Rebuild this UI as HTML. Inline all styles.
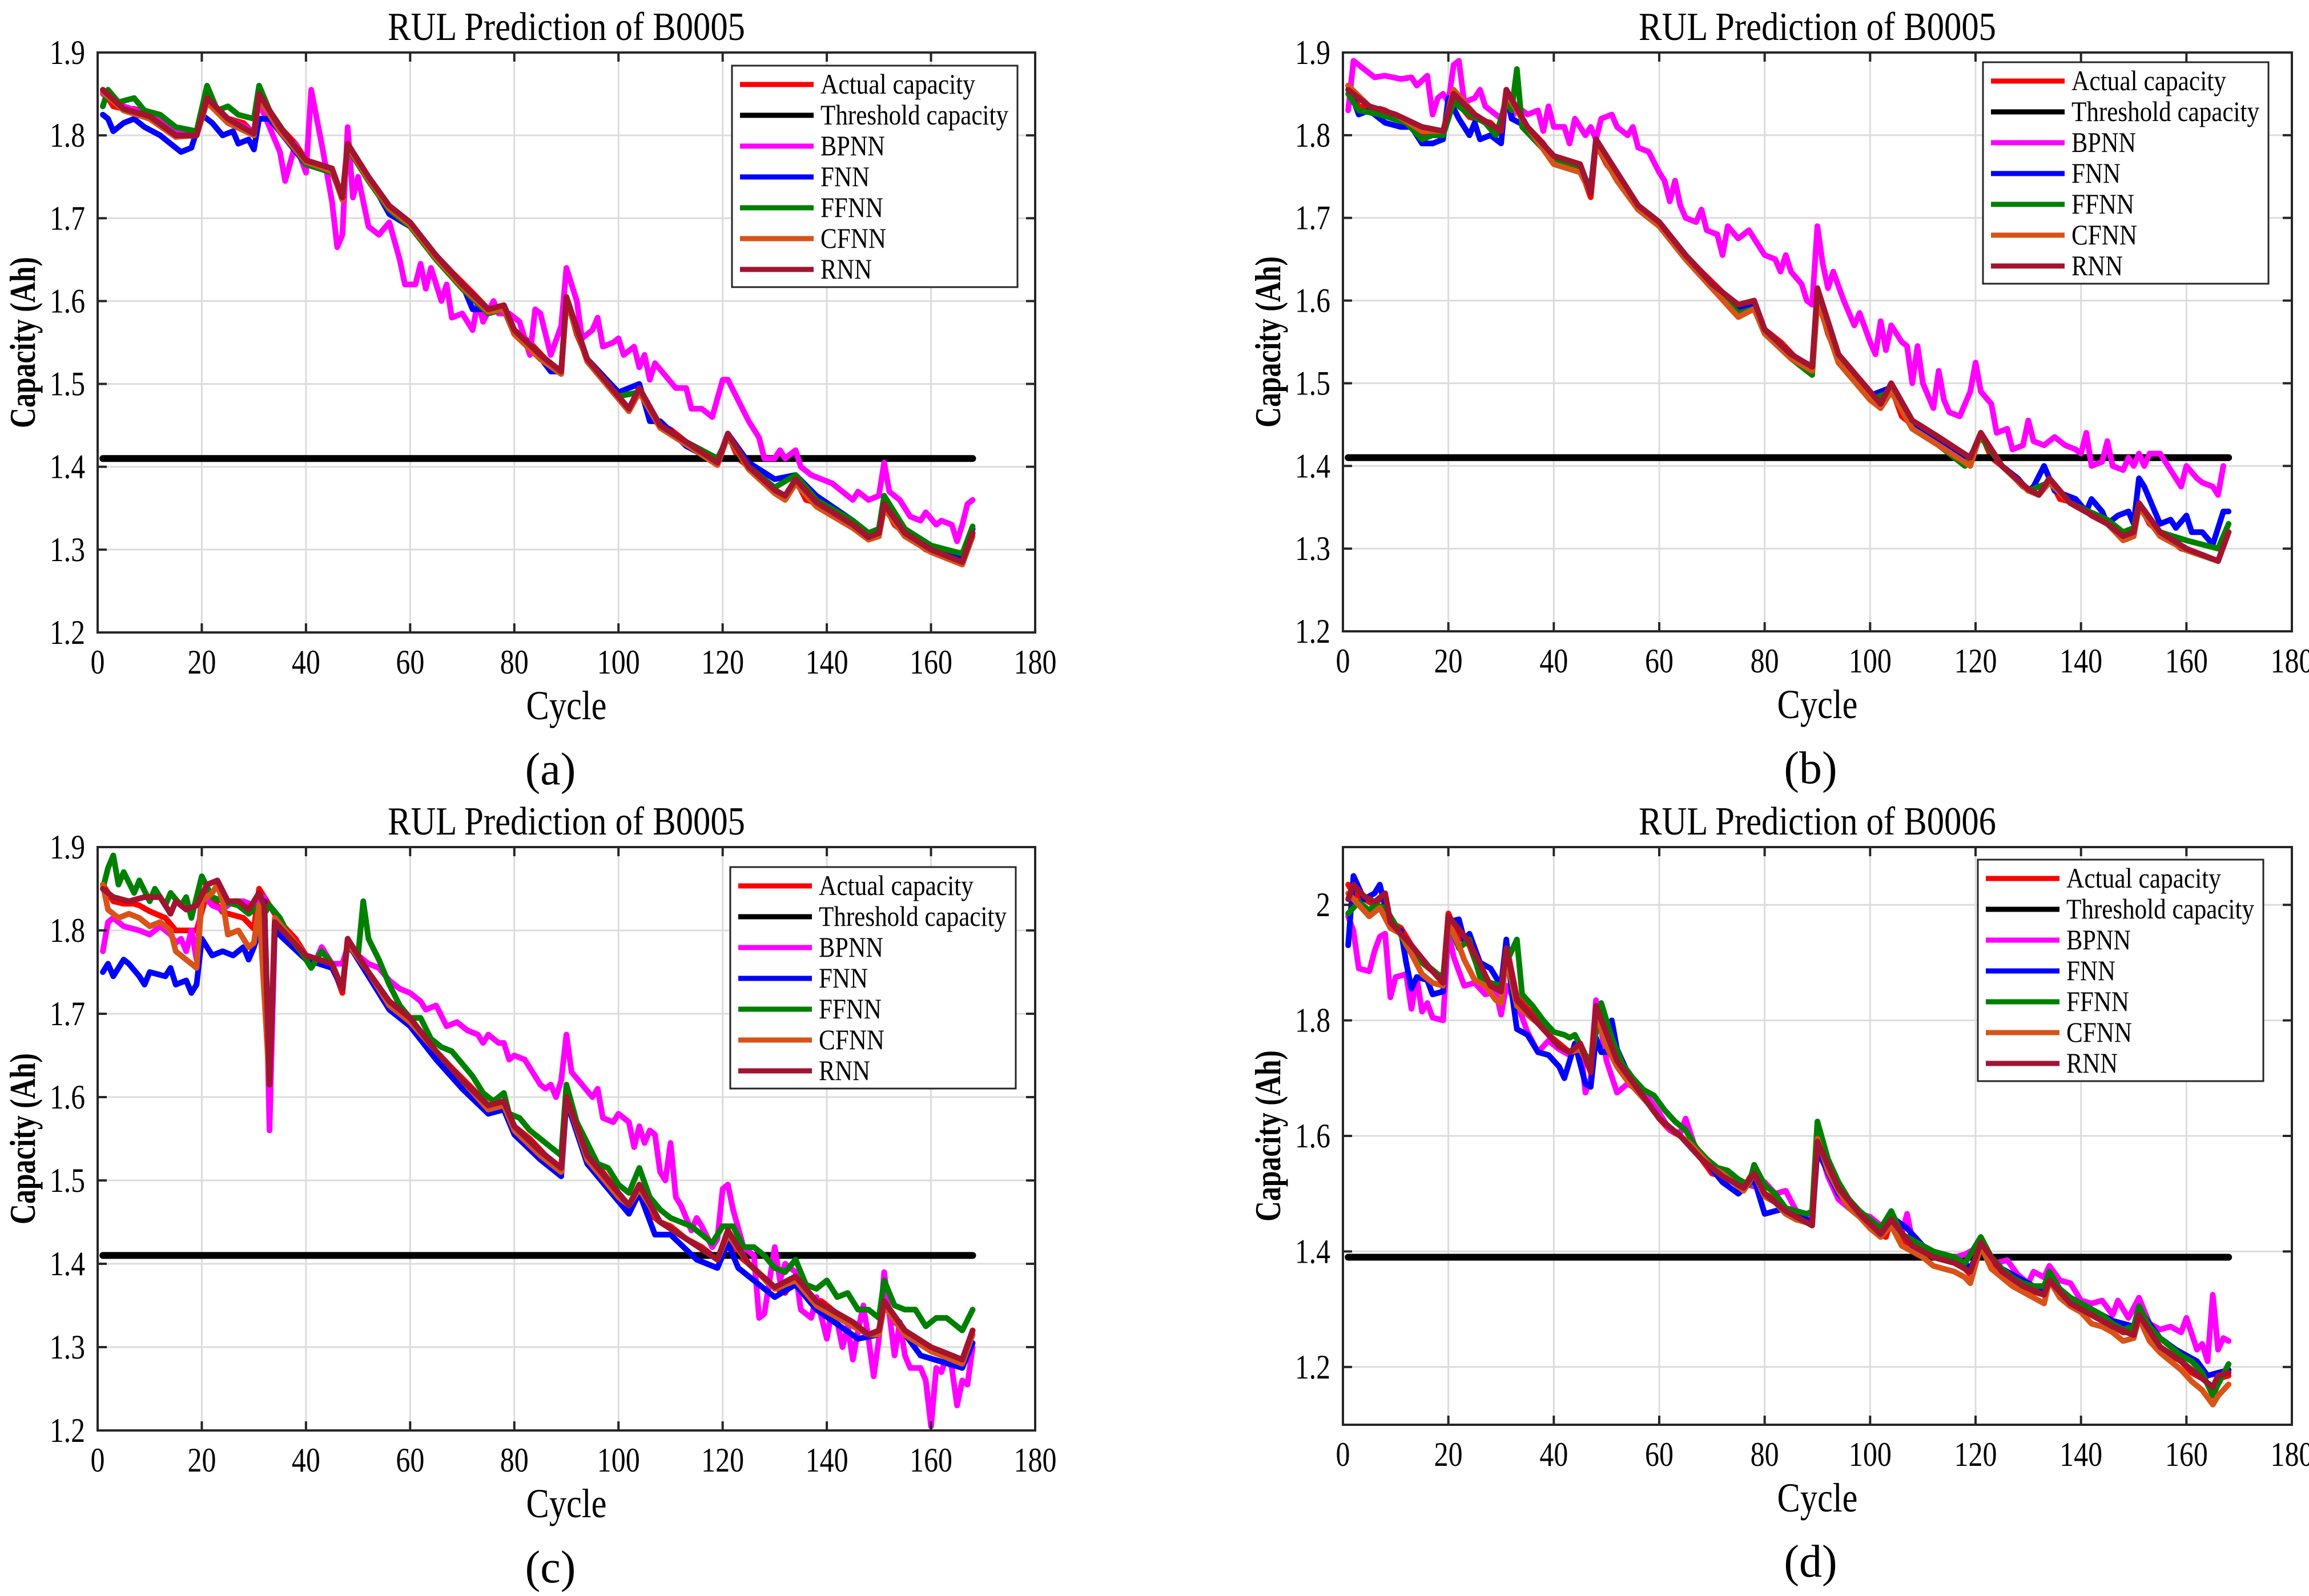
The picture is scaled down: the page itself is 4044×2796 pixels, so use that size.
<!DOCTYPE html>
<html><head><meta charset="utf-8"><title>RUL Prediction</title>
<style>html,body{margin:0;padding:0;background:#fff;}svg{display:block;}</style>
</head><body>
<svg id="fig" xmlns="http://www.w3.org/2000/svg" width="4044" height="2796" viewBox="0 0 4044 2796"></svg>
<script>
// ---------- data ----------
const b5ActualX=[1,3,5,7,8,10,13,15,19,21,24,28,30,31,33,35,38,40,43,45,47,48,50,53,56,60,62,65,68,72,75,78,80,83,86,89,90,92,94,97,100,102,104,106,108,110,113,116,119,121,123,126,129,132,134,136,139,142,145,148,150,151,153,156,159,162,164,166,168];
const b5ActualY=[1.855,1.835,1.832,1.832,1.83,1.823,1.815,1.80,1.80,1.845,1.822,1.815,1.802,1.85,1.83,1.81,1.79,1.77,1.76,1.76,1.725,1.79,1.765,1.74,1.715,1.695,1.675,1.655,1.635,1.61,1.59,1.595,1.565,1.55,1.53,1.515,1.605,1.56,1.53,1.51,1.485,1.47,1.495,1.46,1.45,1.445,1.43,1.42,1.405,1.44,1.41,1.395,1.375,1.365,1.385,1.36,1.355,1.34,1.33,1.315,1.32,1.355,1.33,1.315,1.30,1.295,1.29,1.285,1.32];
const trackX=[1,5,10,15,19,21,25,30,31,35,40,45,47,48,52,56,60,65,70,75,78,80,85,89,90,94,100,102,104,108,113,119,121,125,130,132,134,138,145,148,150,151,155,160,166,168];

const aBpnnX=[1,5,10,15,19,21,25,30,31,33,35,36,38,40,41,43,45,46,47,48,49,50,52,54,56,58,59,61,62,63,64,66,67,68,70,72,73,74,76,77,79,81,82,83,84,85,87,89,90,92,93,95,96,97,99,100,101,103,104,105,106,107,109,111,113,114,116,118,120,121,123,125,127,128,130,131,132,134,135,137,139,141,143,145,146,148,150,151,152,154,156,158,159,161,162,164,165,166,167,168];
const aBpnnY=[1.85,1.835,1.825,1.805,1.80,1.845,1.82,1.805,1.84,1.81,1.78,1.745,1.79,1.755,1.855,1.79,1.72,1.665,1.68,1.81,1.725,1.75,1.69,1.68,1.695,1.65,1.62,1.62,1.645,1.615,1.64,1.60,1.62,1.58,1.585,1.565,1.60,1.575,1.60,1.585,1.585,1.575,1.555,1.535,1.59,1.585,1.535,1.57,1.64,1.60,1.555,1.565,1.58,1.545,1.55,1.555,1.535,1.545,1.52,1.535,1.505,1.525,1.51,1.495,1.495,1.47,1.47,1.46,1.505,1.505,1.48,1.455,1.435,1.41,1.41,1.42,1.41,1.42,1.40,1.39,1.385,1.38,1.37,1.36,1.37,1.36,1.365,1.405,1.37,1.36,1.34,1.335,1.345,1.33,1.335,1.33,1.31,1.33,1.355,1.36];
const aFnnX=[1,2,3,5,7,9,12,14,16,18,20,22,24,26,27,29,30,31,33,40,45,47,48,52,56,60,65,70,72,75,78,80,84,87,89,90,94,100,104,106,108,113,119,121,125,130,134,138,145,148,150,151,155,160,166,168];
const aFnnY=[1.825,1.82,1.805,1.815,1.82,1.81,1.80,1.79,1.78,1.785,1.825,1.815,1.80,1.805,1.79,1.795,1.783,1.82,1.82,1.765,1.755,1.725,1.785,1.75,1.705,1.69,1.655,1.62,1.59,1.59,1.59,1.56,1.54,1.515,1.515,1.60,1.53,1.49,1.50,1.455,1.455,1.425,1.405,1.44,1.405,1.385,1.39,1.365,1.335,1.32,1.325,1.36,1.325,1.305,1.29,1.325];
const aFfnnX=[1,2,4,7,9,12,15,19,21,23,25,27,30,31,33,40,45,47,48,52,56,60,65,70,75,78,80,85,89,90,94,100,104,108,113,119,121,125,130,134,138,145,148,150,151,155,160,166,168];
const aFfnnY=[1.835,1.855,1.84,1.845,1.83,1.825,1.81,1.805,1.86,1.83,1.835,1.825,1.82,1.86,1.83,1.765,1.755,1.725,1.785,1.745,1.71,1.69,1.65,1.615,1.585,1.59,1.56,1.53,1.515,1.60,1.53,1.485,1.49,1.45,1.43,1.41,1.435,1.40,1.375,1.39,1.36,1.335,1.32,1.325,1.365,1.325,1.305,1.295,1.328];
const aCfnnY=[1.852,1.83,1.82,1.798,1.80,1.84,1.815,1.80,1.845,1.805,1.768,1.757,1.722,1.787,1.747,1.712,1.692,1.652,1.617,1.587,1.59,1.56,1.53,1.512,1.60,1.527,1.482,1.467,1.49,1.447,1.427,1.402,1.437,1.397,1.368,1.36,1.38,1.352,1.326,1.312,1.316,1.35,1.316,1.297,1.282,1.316];
const aRnnY=[1.855,1.832,1.823,1.80,1.80,1.845,1.82,1.802,1.85,1.81,1.77,1.76,1.725,1.79,1.75,1.715,1.695,1.655,1.62,1.59,1.595,1.565,1.535,1.515,1.605,1.53,1.485,1.47,1.495,1.45,1.43,1.405,1.44,1.40,1.372,1.365,1.385,1.357,1.33,1.315,1.32,1.355,1.32,1.30,1.285,1.32];

const bBpnnX=[1,2,4,6,8,11,13,14,16,17,18,19,20,21,22,23,25,26,27,30,31,32,33,35,37,38,39,40,42,43,44,46,47,48,49,51,52,54,55,56,58,60,61,62,63,64,65,67,68,69,71,72,73,75,77,79,80,82,83,84,85,87,88,89,90,91,92,93,95,96,97,98,100,101,102,103,104,106,107,108,109,110,112,113,114,115,117,119,120,121,123,124,126,127,129,130,131,133,135,137,139,140,141,142,144,145,146,148,149,150,151,152,153,155,157,159,160,162,163,165,166,167];
const bBpnnY=[1.83,1.89,1.88,1.87,1.872,1.868,1.87,1.86,1.872,1.825,1.845,1.85,1.84,1.885,1.89,1.84,1.845,1.855,1.835,1.82,1.845,1.82,1.835,1.825,1.83,1.805,1.835,1.81,1.81,1.79,1.82,1.80,1.81,1.795,1.82,1.825,1.81,1.80,1.81,1.785,1.78,1.755,1.745,1.72,1.745,1.715,1.70,1.695,1.71,1.685,1.68,1.655,1.69,1.675,1.685,1.665,1.655,1.65,1.635,1.655,1.635,1.62,1.60,1.595,1.69,1.645,1.615,1.635,1.60,1.585,1.57,1.585,1.55,1.535,1.575,1.54,1.57,1.55,1.545,1.50,1.545,1.50,1.47,1.515,1.48,1.465,1.46,1.49,1.525,1.49,1.475,1.44,1.445,1.42,1.425,1.455,1.43,1.425,1.435,1.425,1.42,1.415,1.44,1.40,1.405,1.43,1.40,1.395,1.41,1.40,1.415,1.40,1.415,1.415,1.395,1.375,1.40,1.385,1.38,1.375,1.365,1.40];
const bFnnX=[1,3,5,8,11,13,15,17,19,20,22,24,25,26,28,30,31,32,35,40,45,47,48,52,56,60,65,70,75,78,80,85,89,90,94,100,104,108,113,119,121,125,128,130,131,133,135,137,139,141,142,144,145,147,149,150,151,152,154,155,157,158,160,161,163,165,167,168];
const bFnnY=[1.86,1.825,1.83,1.815,1.81,1.81,1.79,1.79,1.795,1.845,1.82,1.80,1.815,1.795,1.80,1.79,1.855,1.82,1.81,1.77,1.76,1.735,1.795,1.75,1.715,1.695,1.655,1.62,1.59,1.595,1.565,1.535,1.515,1.605,1.53,1.485,1.495,1.45,1.43,1.405,1.44,1.40,1.385,1.37,1.375,1.40,1.37,1.365,1.36,1.345,1.36,1.345,1.33,1.34,1.345,1.33,1.385,1.375,1.345,1.33,1.335,1.325,1.34,1.32,1.32,1.305,1.345,1.345];
const bFfnnX=[1,3,7,12,15,17,19,21,24,27,29,31,32,33,34,40,45,47,48,52,56,60,65,70,75,78,80,85,89,90,94,100,104,108,113,118,121,125,130,134,138,145,148,150,151,155,160,166,168];
const bFfnnY=[1.85,1.83,1.825,1.815,1.795,1.80,1.80,1.84,1.825,1.815,1.80,1.84,1.83,1.88,1.81,1.77,1.76,1.73,1.79,1.745,1.71,1.69,1.65,1.615,1.585,1.59,1.56,1.53,1.51,1.60,1.525,1.48,1.49,1.445,1.425,1.40,1.435,1.40,1.37,1.38,1.355,1.335,1.32,1.325,1.355,1.32,1.31,1.30,1.33];
const bCfnnY=[1.86,1.835,1.825,1.805,1.805,1.855,1.825,1.805,1.85,1.81,1.765,1.755,1.73,1.79,1.745,1.71,1.69,1.65,1.615,1.58,1.59,1.56,1.53,1.515,1.60,1.525,1.48,1.47,1.49,1.445,1.425,1.40,1.44,1.40,1.37,1.365,1.38,1.355,1.33,1.31,1.315,1.35,1.315,1.298,1.285,1.32];
const bRnnY=[1.855,1.835,1.825,1.81,1.805,1.85,1.825,1.805,1.855,1.81,1.775,1.765,1.73,1.795,1.755,1.715,1.695,1.655,1.62,1.595,1.60,1.565,1.535,1.52,1.615,1.535,1.49,1.475,1.50,1.455,1.435,1.41,1.44,1.40,1.372,1.365,1.385,1.355,1.33,1.315,1.32,1.355,1.32,1.30,1.285,1.32];

const cBpnnX=[1,2,3,5,8,10,12,14,15,16,17,18,19,20,22,24,26,28,30,32,33,34,36,38,40,42,43,45,47,48,50,52,54,56,58,60,62,63,65,67,69,71,73,74,75,77,78,79,80,82,83,85,86,87,88,89,90,91,93,95,96,97,99,100,102,103,104,105,106,107,108,109,110,111,112,113,114,115,116,118,119,120,121,122,124,126,127,128,129,130,131,132,134,135,137,138,140,141,142,143,144,145,146,147,148,149,150,151,152,153,154,155,156,158,159,160,161,162,163,164,165,166,167,168];
const cBpnnY=[1.775,1.81,1.815,1.805,1.80,1.795,1.805,1.795,1.785,1.79,1.775,1.80,1.765,1.845,1.83,1.825,1.835,1.835,1.83,1.84,1.56,1.80,1.79,1.785,1.77,1.765,1.78,1.76,1.76,1.78,1.77,1.76,1.755,1.74,1.73,1.725,1.715,1.705,1.71,1.685,1.69,1.68,1.675,1.665,1.675,1.665,1.665,1.645,1.65,1.645,1.635,1.615,1.61,1.615,1.60,1.62,1.675,1.63,1.615,1.60,1.61,1.575,1.57,1.58,1.57,1.54,1.565,1.545,1.56,1.555,1.51,1.50,1.545,1.48,1.47,1.455,1.44,1.455,1.445,1.42,1.43,1.49,1.495,1.465,1.42,1.41,1.335,1.34,1.38,1.42,1.38,1.40,1.39,1.345,1.335,1.36,1.31,1.345,1.33,1.30,1.325,1.285,1.32,1.35,1.31,1.265,1.31,1.39,1.34,1.29,1.33,1.29,1.275,1.275,1.26,1.205,1.275,1.27,1.29,1.275,1.23,1.26,1.255,1.30];
const cFnnX=[1,2,3,5,6,8,9,10,13,14,15,17,18,19,20,22,24,26,28,29,30,31,32,33,34,40,45,47,48,52,56,60,65,70,75,78,80,85,89,90,94,100,102,104,107,110,115,119,121,123,130,134,138,146,150,151,158,166,168];
const cFnnY=[1.75,1.76,1.745,1.765,1.76,1.745,1.735,1.75,1.745,1.755,1.735,1.74,1.725,1.735,1.79,1.77,1.775,1.77,1.78,1.765,1.78,1.80,1.835,1.62,1.80,1.765,1.755,1.73,1.785,1.745,1.705,1.685,1.645,1.61,1.58,1.585,1.555,1.525,1.505,1.595,1.52,1.475,1.46,1.485,1.435,1.435,1.405,1.395,1.425,1.395,1.36,1.375,1.345,1.31,1.315,1.35,1.29,1.275,1.305];
const cFfnnX=[1,2,3,4,5,7,8,10,11,13,14,16,17,18,20,22,24,27,29,31,32,33,35,37,39,41,43,45,47,48,50,51,52,54,56,58,60,62,64,66,68,70,72,74,76,78,79,81,83,85,87,89,90,92,94,96,98,100,102,104,106,108,110,112,114,116,118,120,122,124,126,128,130,132,134,136,138,140,142,144,146,148,150,151,153,155,157,159,161,163,165,166,168];
const cFfnnY=[1.85,1.875,1.89,1.855,1.87,1.845,1.86,1.835,1.85,1.83,1.845,1.83,1.84,1.815,1.865,1.84,1.835,1.83,1.82,1.83,1.82,1.83,1.815,1.79,1.775,1.755,1.775,1.76,1.73,1.785,1.77,1.835,1.79,1.765,1.735,1.71,1.695,1.695,1.67,1.66,1.655,1.64,1.625,1.605,1.595,1.605,1.58,1.575,1.56,1.55,1.54,1.53,1.615,1.57,1.545,1.52,1.515,1.495,1.485,1.515,1.48,1.465,1.455,1.45,1.445,1.435,1.425,1.445,1.445,1.42,1.42,1.41,1.395,1.39,1.405,1.375,1.37,1.38,1.36,1.365,1.345,1.345,1.335,1.38,1.35,1.345,1.345,1.325,1.335,1.335,1.325,1.32,1.345];
const cCfnnX=[1,2,4,6,8,10,12,14,15,17,19,20,22,23,24,25,27,29,30,31,33,34,40,45,47,48,52,56,60,65,70,75,78,80,85,89,90,94,100,102,104,108,113,119,121,125,130,134,138,145,148,150,151,155,160,166,168];
const cCfnnY=[1.855,1.825,1.815,1.82,1.815,1.805,1.81,1.80,1.775,1.765,1.755,1.835,1.845,1.855,1.835,1.795,1.80,1.78,1.785,1.83,1.615,1.815,1.77,1.76,1.73,1.785,1.75,1.71,1.69,1.655,1.62,1.585,1.59,1.56,1.53,1.51,1.60,1.525,1.48,1.47,1.49,1.45,1.43,1.405,1.435,1.40,1.37,1.38,1.35,1.325,1.315,1.315,1.35,1.315,1.295,1.28,1.315];
const cRnnX=[1,3,6,9,12,14,15,17,19,21,23,25,27,29,31,32,33,34,40,45,47,48,52,56,60,65,70,75,78,80,85,89,90,94,100,102,104,108,113,119,121,125,130,134,138,145,148,150,151,155,160,166,168];
const cRnnY=[1.85,1.84,1.835,1.84,1.84,1.82,1.835,1.825,1.83,1.855,1.86,1.835,1.835,1.825,1.845,1.83,1.615,1.81,1.77,1.76,1.73,1.79,1.75,1.715,1.695,1.655,1.62,1.59,1.595,1.565,1.535,1.515,1.60,1.53,1.485,1.47,1.495,1.45,1.43,1.405,1.44,1.40,1.372,1.385,1.355,1.33,1.315,1.32,1.355,1.32,1.30,1.285,1.32];

const dActualX=[1,2,4,6,8,9,11,13,15,17,19,20,22,24,26,28,30,31,33,35,37,39,41,43,45,47,48,50,52,54,56,58,60,62,64,66,68,70,72,74,76,78,80,82,84,86,88,89,90,92,94,96,98,100,102,103,104,106,108,110,112,114,116,118,119,121,123,125,127,129,131,133,134,136,138,140,142,144,146,148,150,151,153,155,157,159,161,163,165,166,168];
const dActualY=[2.035,2.02,2.01,2.0,2.02,1.97,1.96,1.93,1.90,1.885,1.87,1.985,1.945,1.93,1.88,1.86,1.85,1.93,1.84,1.82,1.80,1.775,1.76,1.745,1.76,1.72,1.83,1.76,1.73,1.70,1.68,1.66,1.63,1.61,1.60,1.58,1.56,1.535,1.53,1.52,1.51,1.54,1.50,1.49,1.47,1.46,1.45,1.445,1.60,1.54,1.51,1.48,1.465,1.445,1.43,1.425,1.455,1.42,1.41,1.40,1.39,1.385,1.38,1.37,1.36,1.42,1.38,1.365,1.35,1.34,1.33,1.325,1.355,1.33,1.31,1.30,1.29,1.28,1.27,1.26,1.26,1.295,1.255,1.235,1.22,1.21,1.19,1.18,1.165,1.18,1.185];
const dBpnnX=[1,2,3,5,6,7,8,9,10,12,13,14,15,16,17,19,20,21,22,23,25,27,29,30,31,33,35,37,39,41,43,45,46,47,48,50,52,54,56,58,60,62,64,65,67,69,71,73,75,77,79,80,82,84,86,88,89,90,92,94,96,98,100,102,104,106,107,108,110,112,114,116,118,120,122,124,126,128,130,131,133,134,136,138,140,142,144,146,147,149,151,153,155,157,159,160,162,163,164,165,166,167,168];
const dBpnnY=[1.98,1.955,1.89,1.885,1.92,1.945,1.95,1.84,1.875,1.88,1.82,1.875,1.815,1.83,1.805,1.80,1.955,1.91,1.885,1.86,1.865,1.845,1.85,1.81,1.86,1.83,1.78,1.745,1.765,1.75,1.74,1.76,1.675,1.70,1.835,1.73,1.675,1.69,1.68,1.665,1.64,1.61,1.605,1.63,1.575,1.56,1.545,1.53,1.525,1.515,1.51,1.52,1.50,1.505,1.47,1.465,1.45,1.59,1.53,1.49,1.475,1.465,1.46,1.445,1.44,1.43,1.465,1.42,1.41,1.40,1.395,1.39,1.395,1.405,1.40,1.38,1.385,1.36,1.345,1.365,1.355,1.375,1.35,1.345,1.315,1.31,1.315,1.29,1.315,1.285,1.32,1.275,1.265,1.27,1.26,1.285,1.23,1.24,1.21,1.325,1.23,1.25,1.245];
const dFnnX=[1,2,4,6,7,9,11,12,13,14,16,17,19,20,22,23,24,26,28,30,31,32,33,35,37,39,41,42,44,46,47,48,49,50,51,52,54,56,60,64,68,72,75,78,80,84,88,89,90,94,98,102,104,107,110,114,118,119,121,125,129,133,134,138,142,146,150,151,155,158,160,162,164,166,168];
const dFnnY=[1.93,2.05,2.01,2.02,2.035,1.96,1.955,1.90,1.855,1.875,1.87,1.845,1.85,1.97,1.975,1.94,1.95,1.90,1.89,1.86,1.94,1.85,1.785,1.775,1.745,1.74,1.72,1.70,1.76,1.69,1.685,1.77,1.745,1.745,1.80,1.75,1.71,1.68,1.63,1.60,1.565,1.52,1.50,1.525,1.465,1.475,1.455,1.45,1.575,1.50,1.46,1.435,1.46,1.44,1.41,1.39,1.38,1.37,1.41,1.37,1.35,1.33,1.35,1.32,1.30,1.28,1.27,1.30,1.25,1.23,1.22,1.21,1.185,1.19,1.195];
const dFfnnX=[1,3,5,6,8,10,12,14,16,18,19,20,22,24,26,28,30,31,33,34,36,38,40,42,43,44,46,47,49,51,53,55,57,59,61,63,65,67,69,71,73,75,77,78,80,82,84,86,88,89,90,92,94,96,98,100,102,104,106,108,110,112,114,116,118,121,123,125,127,129,131,133,134,136,138,140,142,144,146,148,150,151,153,155,157,159,161,163,165,166,168];
const dFfnnY=[1.985,2.005,1.99,2.0,1.995,1.965,1.93,1.905,1.895,1.88,1.875,1.97,1.925,1.94,1.875,1.865,1.86,1.90,1.94,1.845,1.825,1.80,1.78,1.775,1.77,1.775,1.74,1.73,1.83,1.77,1.725,1.70,1.68,1.67,1.645,1.625,1.61,1.58,1.56,1.545,1.54,1.525,1.515,1.55,1.515,1.50,1.475,1.47,1.465,1.47,1.625,1.56,1.52,1.49,1.47,1.455,1.44,1.47,1.43,1.42,1.41,1.40,1.395,1.39,1.38,1.425,1.39,1.37,1.355,1.345,1.34,1.34,1.365,1.335,1.32,1.31,1.30,1.29,1.275,1.265,1.27,1.305,1.27,1.25,1.235,1.22,1.21,1.19,1.15,1.17,1.205];
const dCfnnX=[1,3,5,7,9,11,13,15,17,19,20,22,23,25,27,29,30,31,33,35,37,39,41,43,45,47,48,50,52,54,56,58,60,62,64,66,68,70,72,74,76,78,80,82,84,86,88,89,90,92,94,96,98,100,102,104,106,108,110,112,114,116,118,119,121,123,125,127,129,131,133,134,136,138,140,142,144,146,148,150,151,153,155,157,159,161,163,165,166,168];
const dCfnnY=[2.02,2.0,1.98,1.995,1.96,1.95,1.915,1.88,1.865,1.86,1.97,1.93,1.905,1.87,1.86,1.835,1.83,1.91,1.825,1.81,1.795,1.775,1.755,1.745,1.75,1.715,1.815,1.755,1.72,1.695,1.675,1.655,1.63,1.615,1.60,1.585,1.565,1.545,1.535,1.52,1.505,1.535,1.495,1.485,1.465,1.455,1.45,1.445,1.595,1.54,1.505,1.475,1.46,1.44,1.425,1.445,1.41,1.40,1.39,1.375,1.37,1.365,1.355,1.345,1.41,1.37,1.355,1.34,1.33,1.32,1.31,1.35,1.32,1.305,1.295,1.275,1.27,1.26,1.245,1.25,1.285,1.245,1.225,1.21,1.195,1.175,1.16,1.135,1.15,1.17];
const dRnnX=[1,2,4,6,8,9,13,17,19,20,24,28,30,31,33,37,41,43,45,47,48,52,56,60,64,68,72,76,78,80,84,88,89,90,94,98,102,104,108,112,116,119,121,125,129,133,134,138,142,146,150,151,155,159,163,165,166,168];
const dRnnY=[2.01,2.035,2.015,2.005,2.02,1.97,1.93,1.885,1.865,1.98,1.935,1.86,1.85,1.925,1.835,1.795,1.755,1.745,1.76,1.71,1.825,1.73,1.68,1.63,1.60,1.56,1.53,1.51,1.535,1.50,1.47,1.45,1.445,1.59,1.51,1.465,1.43,1.455,1.41,1.39,1.38,1.365,1.415,1.365,1.34,1.325,1.35,1.31,1.29,1.27,1.255,1.29,1.235,1.21,1.18,1.165,1.185,1.19];

const xTicks=[0,20,40,60,80,100,120,140,160,180];
const yTicksB5=[1.2,1.3,1.4,1.5,1.6,1.7,1.8,1.9];
const yTicksB6=[1.2,1.4,1.6,1.8,2.0];
const legendLabels=["Actual capacity","Threshold capacity","BPNN","FNN","FFNN","CFNN","RNN"];
const legendLens=[271,329,113,86,110,115,90];
const seriesColors=["#ff0000","#000000","#ff00ff","#0000ff","#008000","#d95319","#a2142f"];
const thresholdB5=1.41, thresholdB6=1.39;

// ---------- drawing ----------
const NS="http://www.w3.org/2000/svg";
const svg=document.getElementById("fig");
function mk(tag,parent,attrs){const e=document.createElementNS(NS,tag);for(const k in attrs)e.setAttribute(k,attrs[k]);parent.appendChild(e);return e;}
function mkText(parent,str,x,y,size,anchor,extra){const t=mk("text",parent,Object.assign({x:x,y:y,"font-size":size,"text-anchor":anchor||"middle","font-family":"'Liberation Serif','Times New Roman',serif",fill:"#000"},extra||{}));t.textContent=str;return t;}
function numLen(s){let w=0;for(const ch of s){w+=(ch==="."?12:25);}return w;}
const bg=mk("rect",svg,{x:0,y:0,width:4044,height:2796,fill:"#fff"});



const panels=[
 {id:"a",L:171,R:1813,T:92,B:1108,ymin:1.2,ymax:1.9,yt:yTicksB5,thr:thresholdB5,title:"RUL Prediction of B0005",lx:1282,ly:115,
  series:[[b5ActualX,b5ActualY],null,[aBpnnX,aBpnnY],[aFnnX,aFnnY],[aFfnnX,aFfnnY],[trackX,aCfnnY],[trackX,aRnnY]]},
 {id:"b",L:2352,R:4014,T:92,B:1106,ymin:1.2,ymax:1.9,yt:yTicksB5,thr:thresholdB5,title:"RUL Prediction of B0005",lx:3473,ly:109,
  series:[[b5ActualX,b5ActualY],null,[bBpnnX,bBpnnY],[bFnnX,bFnnY],[bFfnnX,bFfnnY],[trackX,bCfnnY],[trackX,bRnnY]]},
 {id:"c",L:171,R:1813,T:1484,B:2506,ymin:1.2,ymax:1.9,yt:yTicksB5,thr:thresholdB5,title:"RUL Prediction of B0005",lx:1279,ly:1519,
  series:[[b5ActualX,b5ActualY],null,[cBpnnX,cBpnnY],[cFnnX,cFnnY],[cFfnnX,cFfnnY],[cCfnnX,cCfnnY],[cRnnX,cRnnY]]},
 {id:"d",L:2352,R:4014,T:1484,B:2496,ymin:1.1,ymax:2.1,yt:yTicksB6,thr:thresholdB6,title:"RUL Prediction of B0006",lx:3464,ly:1506,
  series:[[dActualX,dActualY],null,[dBpnnX,dBpnnY],[dFnnX,dFnnY],[dFfnnX,dFfnnY],[dCfnnX,dCfnnY],[dRnnX,dRnnY]]}
];
const seriesNames=["actual-capacity","threshold-capacity","bpnn","fnn","ffnn","cfnn","rnn"];

panels.forEach(function(p){
  const g=mk("g",svg,{});
  
  
  const sx=function(v){return p.L+(v-0)/(180-0)*(p.R-p.L);};
  const sy=function(v){return p.B-(v-p.ymin)/(p.ymax-p.ymin)*(p.B-p.T);};
  const cp=mk("clipPath",g,{id:"clip-"+p.id});
  mk("rect",cp,{x:p.L,y:p.T,width:p.R-p.L,height:p.B-p.T});
  xTicks.forEach(function(v){
    const l=mk("line",g,{x1:sx(v),x2:sx(v),y1:p.T,y2:p.B,stroke:"#dcdcdc","stroke-width":3});
    
    
  });
  p.yt.forEach(function(v){
    const l=mk("line",g,{x1:p.L,x2:p.R,y1:sy(v),y2:sy(v),stroke:"#dcdcdc","stroke-width":3});
    
    
  });
  const sg=mk("g",g,{"clip-path":"url(#clip-"+p.id+")",fill:"none","stroke-linejoin":"round","stroke-linecap":"round"});
  
  
  p.series.forEach(function(s,i){
    let d;
    if(s===null){ d="M"+sx(1)+","+sy(p.thr)+"L"+sx(168)+","+sy(p.thr); }
    else { d=s[0].map(function(x,k){return (k?"L":"M")+sx(x).toFixed(1)+","+sy(s[1][k]).toFixed(1);}).join(""); }
    const path=mk("path",sg,{d:d,stroke:seriesColors[i],"stroke-width":(i===1?12:10)});
    
    
  });
  const box=mk("rect",g,{x:p.L,y:p.T,width:p.R-p.L,height:p.B-p.T,fill:"none",stroke:"#262626","stroke-width":4});
  
  
  xTicks.forEach(function(v){
    const x=sx(v);
    const t1=mk("line",g,{x1:x,x2:x,y1:p.B,y2:p.B-16,stroke:"#262626","stroke-width":4});
    
    
    const t2=mk("line",g,{x1:x,x2:x,y1:p.T,y2:p.T+16,stroke:"#262626","stroke-width":4});
    
    
    const s=String(v);
    const lab=mkText(g,s,x,p.B+72,60,"middle",{textLength:numLen(s),lengthAdjust:"spacingAndGlyphs"});
    
    
  });
  p.yt.forEach(function(v){
    const y=sy(v);
    const t1=mk("line",g,{x1:p.L,x2:p.L+16,y1:y,y2:y,stroke:"#262626","stroke-width":4});
    
    
    const t2=mk("line",g,{x1:p.R,x2:p.R-16,y1:y,y2:y,stroke:"#262626","stroke-width":4});
    
    
    const s=(Math.abs(v-2)<1e-9)?"2":v.toFixed(1);
    const lab=mkText(g,s,p.L-22,y+20,60,"end",{textLength:numLen(s),lengthAdjust:"spacingAndGlyphs"});
    
    
  });
  const cx=(p.L+p.R)/2;
  const title=mkText(g,p.title,cx,p.T-22,70,"middle",{textLength:626,lengthAdjust:"spacingAndGlyphs"});
  
  
  const xl=mkText(g,"Cycle",cx,p.B+152,72,"middle",{textLength:141,lengthAdjust:"spacingAndGlyphs"});
  
  
  const yc=(p.T+p.B)/2, yx=p.L-132;
  const yl=mkText(g,"Capacity (Ah)",0,0,64,"middle",{"font-weight":"bold",textLength:300,lengthAdjust:"spacingAndGlyphs",transform:"translate("+(yx+22)+","+yc+") rotate(-90)"});
  
  
  const tag=mkText(g,"("+p.id+")",(p.id==="a"||p.id==="c")?cx-28:cx-12,p.B+266,80,"middle");
  
  
  const lg=mk("g",g,{});
  
  
  const lr=mk("rect",lg,{x:p.lx,y:p.ly,width:500,height:388,fill:"#fff",stroke:"#262626","stroke-width":3});
  
  
  legendLabels.forEach(function(lab,i){
    const ry=p.ly+33+i*54;
    const ll=mk("line",lg,{x1:p.lx+14,x2:p.lx+143,y1:ry,y2:ry,stroke:seriesColors[i],"stroke-width":9});
    
    
    const lt=mkText(lg,lab,p.lx+155,ry+16,50,"start",{textLength:legendLens[i],lengthAdjust:"spacingAndGlyphs"});
    
    
  });
});
</script>
</body></html>
